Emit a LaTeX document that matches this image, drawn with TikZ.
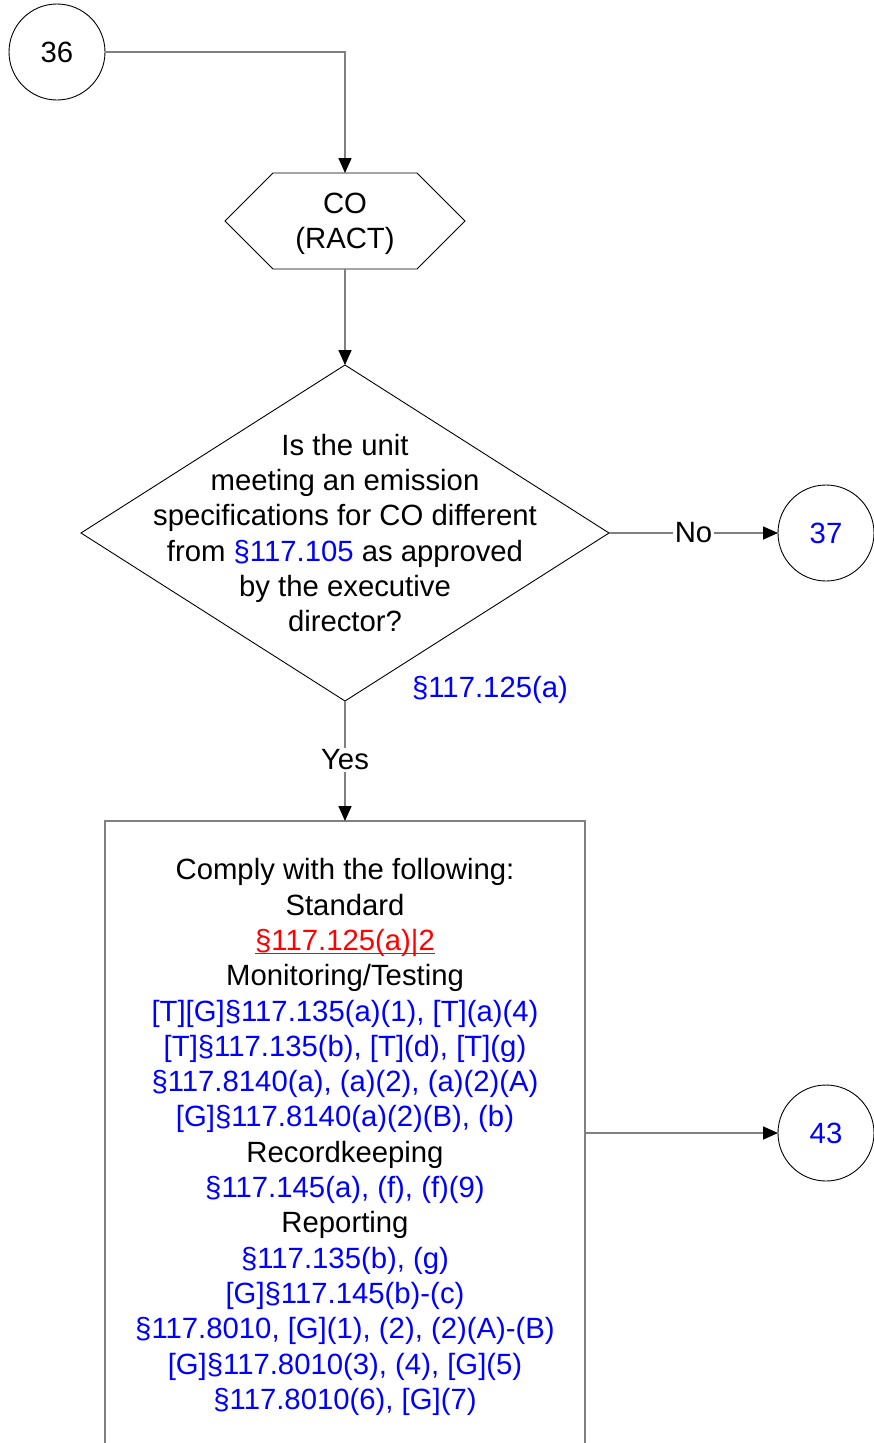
\documentclass[tikz,border=0pt]{standalone}
\usepackage{fontspec}
\setmainfont{Liberation Sans}
\usetikzlibrary{arrows.meta,shapes.geometric}
\definecolor{lnk}{RGB}{0,0,255}
\definecolor{stdred}{RGB}{255,0,0}
\definecolor{linegray}{RGB}{128,128,128}
\newcommand{\bl}[1]{\textcolor{lnk}{#1}}
\newcommand{\redul}[1]{\textcolor{stdred}{\setbox0\hbox{#1}\rlap{\rule[-4pt]{\wd0}{1.6pt}}\box0}}
\begin{document}
\begin{tikzpicture}[x=1pt,y=-1pt,
  every node/.style={font=\fontsize{29.3}{35.3}\selectfont, inner sep=0pt, outer sep=0pt},
  conn/.style={draw=linegray, line width=1.6pt, -{Triangle[length=15pt,width=13pt,color=black]}},
  outline/.style={draw=black, line width=0.9pt},
  conncircle/.style={circle, outline, minimum size=96pt},
  lbl/.style={fill=white, inner sep=2pt}]
\useasboundingbox (0,0) rectangle (873,1443);
% connector circles
\node[conncircle] (c36) at (57,52) {36};
\node[conncircle, text=lnk] (c37) at (826,533) {37};
\node[conncircle, text=lnk] (c43) at (826,1133) {43};
% hexagon
\node[minimum width=144pt, minimum height=96pt] (hex) at (345,221) {};
\draw[outline] (hex.north west) -- (hex.north east) -- ++(48,48) -- (hex.south east)
  -- (hex.south west) -- ++(-48,-48) -- cycle;
\node[align=center] (hextxt) at (345,224) {CO\\(RACT)};
% decision
\node[diamond, outline, minimum width=528pt, minimum height=336pt] (dec) at (345,533) {};
\node[align=center] (dectxt) at (345,533) {Is the unit\\meeting an emission\\specifications for CO different\\from \bl{§117.105} as approved\\by the executive\\director?};
\node[text=lnk] (ref) at (490,690) {§117.125(a)};
% box
\node[draw=linegray, line width=1.6pt, minimum width=480pt, minimum height=624pt] (box) at (345,1133) {};
\node[align=center] (boxtxt) at (345,1137) {Comply with the following:\\Standard\\\redul{§117.125(a)|2}\\Monitoring/Testing\\
\bl{[T][G]§117.135(a)(1), [T](a)(4)}\\
\bl{[T]§117.135(b), [T](d), [T](g)}\\
\bl{§117.8140(a), (a)(2), (a)(2)(A)}\\
\bl{[G]§117.8140(a)(2)(B), (b)}\\
Recordkeeping\\
\bl{§117.145(a), (f), (f)(9)}\\
Reporting\\
\bl{§117.135(b), (g)}\\
\bl{[G]§117.145(b)-(c)}\\
\bl{§117.8010, [G](1), (2), (2)(A)-(B)}\\
\bl{[G]§117.8010(3), (4), [G](5)}\\
\bl{§117.8010(6), [G](7)}};
% connectors
\draw[conn] (c36.east) -| (hex.north);
\draw[conn] (hex.south) -- (dec.north);
\draw[conn] (dec.east) -- node[lbl] (nolbl) {No} (c37.west);
\draw[conn] (dec.south) -- node[lbl, yshift=1pt] (yeslbl) {Yes} (box.north);
\draw[conn] (c43.west -| box.east) -- (c43.west);
\end{tikzpicture}
\end{document}
